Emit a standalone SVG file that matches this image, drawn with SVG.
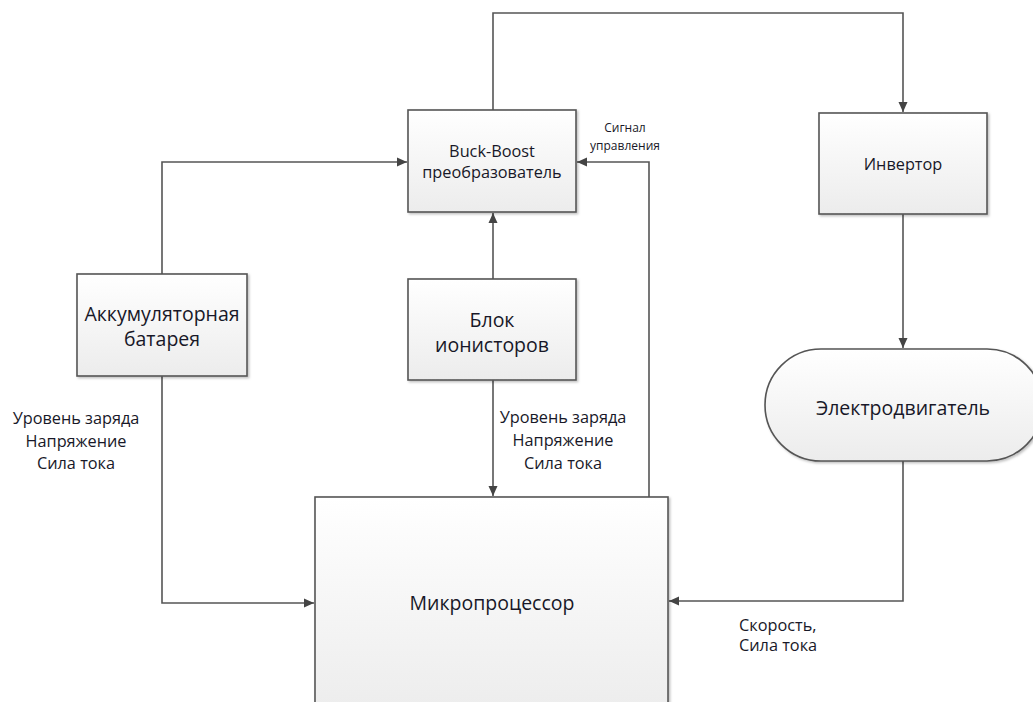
<svg xmlns="http://www.w3.org/2000/svg" width="1033" height="702" viewBox="0 0 1033 702">
  <defs>
    <linearGradient id="boxFill" x1="0" y1="0" x2="0" y2="1">
      <stop offset="0" stop-color="#ffffff"/>
      <stop offset="1" stop-color="#ececec"/>
    </linearGradient>
    <filter id="shadow" x="-5%" y="-5%" width="115%" height="115%">
      <feDropShadow dx="1.5" dy="1.5" stdDeviation="1" flood-color="#000" flood-opacity="0.25"/>
    </filter>
    <marker id="arrow" viewBox="0 0 10 10" refX="10" refY="5" markerWidth="10" markerHeight="10" markerUnits="userSpaceOnUse" orient="auto">
      <path d="M0,0.5 L10,5 L0,9.5 z" fill="#444"/>
    </marker>
  </defs>
  <style>
    .box { fill: url(#boxFill); stroke: #555; stroke-width: 1.6; filter: url(#shadow); }
    .wire { fill: none; stroke: #555; stroke-width: 1.6; }
    .lbl { font-family: "Open Sans", Lato, "Liberation Sans", sans-serif; fill: #181828; text-anchor: middle; }
    .big { font-size: 19.5px; }
    .mid { font-size: 16.3px; }
    .sm { font-size: 12px; }
    .left { text-anchor: start; }
  </style>
  <rect width="1033" height="702" fill="#ffffff"/>

  <g id="connectors">
    <!-- Buck-Boost to inverter over the top -->
    <path class="wire" d="M493,110 V13 H903 V112" marker-end="url(#arrow)"/>
    <!-- inverter to motor -->
    <path class="wire" d="M903,214 V348" marker-end="url(#arrow)"/>
    <!-- motor feedback to microprocessor -->
    <path class="wire" d="M903,461 V601 H669" marker-end="url(#arrow)"/>
    <!-- battery to Buck-Boost -->
    <path class="wire" d="M162,274 V162 H407" marker-end="url(#arrow)"/>
    <!-- battery telemetry to microprocessor -->
    <path class="wire" d="M162,376 V603 H314" marker-end="url(#arrow)"/>
    <!-- supercapacitor bank to Buck-Boost -->
    <path class="wire" d="M493,279 V213" marker-end="url(#arrow)"/>
    <!-- supercapacitor bank telemetry to microprocessor -->
    <path class="wire" d="M493,380 V496" marker-end="url(#arrow)"/>
    <!-- control signal from microprocessor -->
    <path class="wire" d="M649,497 V162 H577" marker-end="url(#arrow)"/>
  </g>

  <g id="buck-boost">
    <rect class="box" x="408" y="110" width="168" height="102"/>
    <text class="lbl mid" x="492" y="157">Buck-Boost</text>
    <text class="lbl mid" x="492" y="178">преобразователь</text>
  </g>

  <g id="inverter">
    <rect class="box" x="819" y="113" width="168" height="101"/>
    <text class="lbl mid" x="903" y="170">Инвертор</text>
  </g>

  <g id="battery">
    <rect class="box" x="77" y="274" width="170" height="102"/>
    <text class="lbl big" x="162" y="321">Аккумуляторная</text>
    <text class="lbl big" x="162" y="346">батарея</text>
  </g>

  <g id="supercaps">
    <rect class="box" x="408" y="279" width="168" height="101"/>
    <text class="lbl big" x="492" y="327">Блок</text>
    <text class="lbl big" x="492" y="352">ионисторов</text>
  </g>

  <g id="motor">
    <rect class="box" x="765" y="349" width="278" height="112" rx="56" ry="56"/>
    <text class="lbl big" x="903" y="415">Электродвигатель</text>
  </g>

  <g id="microprocessor">
    <rect class="box" x="315" y="497" width="353" height="220"/>
    <text class="lbl big" x="492" y="610">Микропроцессор</text>
  </g>

  <g id="labels">
    <text class="lbl mid" x="76" y="424">Уровень заряда</text>
    <text class="lbl mid" x="76" y="447">Напряжение</text>
    <text class="lbl mid" x="76" y="469">Сила тока</text>
    <text class="lbl mid" x="563" y="423">Уровень заряда</text>
    <text class="lbl mid" x="563" y="446">Напряжение</text>
    <text class="lbl mid" x="563" y="469">Сила тока</text>
    <text class="lbl sm" x="625" y="132">Сигнал</text>
    <text class="lbl sm" x="625" y="150">управления</text>
    <text class="lbl mid left" x="739" y="631">Скорость,</text>
    <text class="lbl mid left" x="739" y="651">Сила тока</text>
  </g>
</svg>
